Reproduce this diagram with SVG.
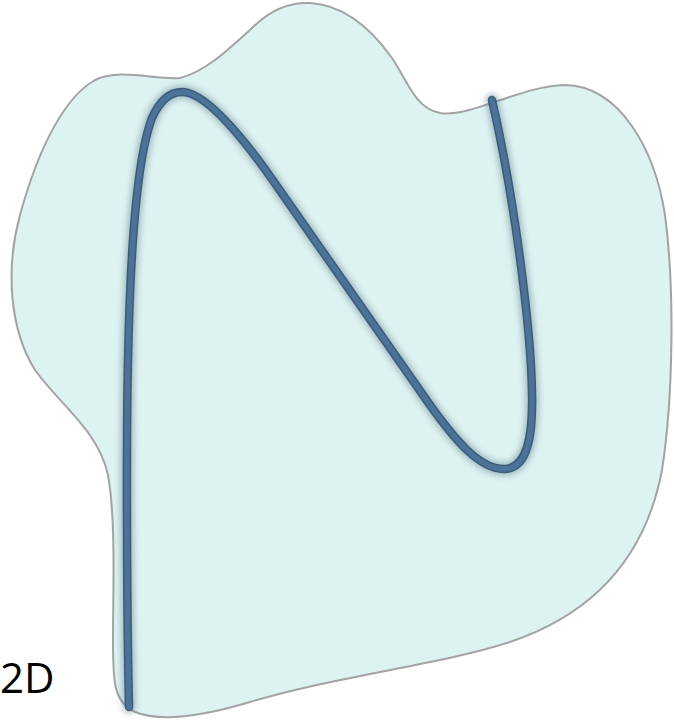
<svg xmlns="http://www.w3.org/2000/svg" width="674" height="721" viewBox="0 0 674 721">
<style>
.region{fill:#ddf3f1;stroke:#a3a3a3;stroke-width:2}
.curve-shadow{fill:none;stroke:#2c4d66;stroke-width:13;stroke-linecap:round;stroke-linejoin:round;opacity:0.35}
.curve-edge{fill:none;stroke:#3b5c7c;stroke-width:8.5;stroke-linecap:round;stroke-linejoin:round}
.curve-core{fill:none;stroke:#4c7297;stroke-width:5.5;stroke-linecap:round;stroke-linejoin:round}
.label{font-family:"Open Sans","Liberation Sans",sans-serif;font-size:42px;fill:#000}
</style>
<defs>
<filter id="blur" x="-10%" y="-10%" width="120%" height="120%"><feGaussianBlur stdDeviation="3"/></filter>
<path id="curvePath" d="M 129 707 C 127 620 126 450 128 360 C 130 260 136 160 152 118 C 160 100 170 92 182 92 C 200 92 228 118 267 172 L 430 405 C 455 440 480 470 505 469 C 528 468 533 435 532 393 C 531 330 515 200 492 100"/>
</defs>
<g id="region">
<path class="region" d="M 180 78 C 205 72 228 50 252 28 C 270 10 290 2 310 3 C 345 5 372 30 392 58 C 408 82 415 108 440 113 C 470 118 520 86 565 85 C 620 86 655 150 665 215 C 675 290 673 400 662 470 C 645 560 590 615 510 642 C 440 665 340 675 250 702 C 200 717 160 722 135 712 C 113 702 113 680 113 640 C 113 590 116 520 108 475 C 98 430 60 405 35 370 C 10 330 5 270 20 215 C 35 160 60 100 95 80 C 120 68 155 80 180 78 Z"/>
</g>
<g id="curve">
<use href="#curvePath" class="curve-shadow" filter="url(#blur)"/>
<use href="#curvePath" class="curve-edge"/>
<use href="#curvePath" class="curve-core"/>
</g>
<g id="label">
<text class="label" x="0" y="693">2D</text>
</g>
</svg>
